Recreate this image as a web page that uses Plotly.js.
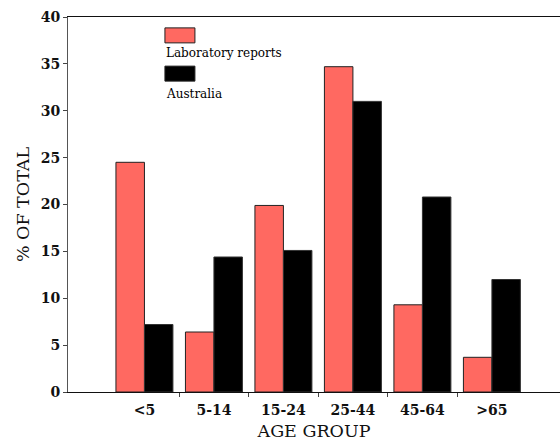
<!DOCTYPE html>
<html>
<head>
<meta charset="utf-8">
<script src="https://cdn.plot.ly/plotly-3.0.1.min.js"></script>
<style>html,body{margin:0;padding:0;background:#fff;}#chart{width:560px;height:441px;}</style>
</head>
<body>
<div id="chart"></div>
<script>
const categories = ["<5", "5-14", "15-24", "25-44", "45-64", ">65"];
const labReports = [24.5, 6.4, 19.9, 34.7, 9.3, 3.7];
const australia = [7.2, 14.4, 15.1, 31.0, 20.8, 12.0];
const seriesNames = ["Laboratory reports", "Australia"];
const seriesColors = ["#FF6961", "#000000"];
const yTicks = [0, 5, 10, 15, 20, 25, 30, 35, 40];
const boundaryTicks = [0.5, 1.5, 2.5, 3.5, 4.5];

const FONT = "DejaVu Serif, serif";
const xRange = [-1.1, 5.98];

const traces = [
  {type: "bar", x: categories, y: labReports, name: seriesNames[0],
   marker: {color: seriesColors[0], line: {color: "#222", width: 1}}, hoverinfo: "none"},
  {type: "bar", x: categories, y: australia, name: seriesNames[1],
   marker: {color: seriesColors[1], line: {color: "#333", width: 1}}, hoverinfo: "none"},
  {type: "scatter", x: [], y: [], xaxis: "x2", yaxis: "y", showlegend: false, hoverinfo: "none"}
];

const shapes = [];
const annotations = [];
const legendBoxes = [[0.971, 0.931], [0.869, 0.829]];
const legendText = [0.905, 0.795];
seriesNames.forEach((n, i) => {
  shapes.push({type: "rect", xref: "paper", yref: "paper", x0: 0.197, x1: 0.258,
    y0: legendBoxes[i][1], y1: legendBoxes[i][0], fillcolor: seriesColors[i],
    line: {color: "#222", width: 1}});
  annotations.push({xref: "paper", yref: "paper", x: 0.195, y: legendText[i],
    xanchor: "left", yanchor: "middle", showarrow: false, text: n,
    font: {family: FONT, size: 12, color: "#000"}});
});

const layout = {
  width: 560, height: 441,
  margin: {l: 68, r: 0, t: 17, b: 49},
  paper_bgcolor: "#fff", plot_bgcolor: "#fff",
  showlegend: false,
  barmode: "group", bargap: 0.18, bargroupgap: 0,
  font: {family: FONT, color: "#111"},
  xaxis: {type: "category", range: xRange, showgrid: false, zeroline: false,
    showline: true, linecolor: "#111", linewidth: 1, mirror: true,
    ticks: "", ticklabelstandoff: 5,
    tickfont: {family: FONT, size: 14, color: "#111", weight: "bold"},
    title: {text: "AGE GROUP", font: {family: FONT, size: 17.5, color: "#111"}, standoff: 9},
    fixedrange: true},
  xaxis2: {overlaying: "x", anchor: "y", side: "bottom", range: xRange,
    tickvals: boundaryTicks, showticklabels: false, ticks: "outside", ticklen: 4,
    tickcolor: "#444", showgrid: false, zeroline: false, showline: false},
  yaxis: {range: [0, 40], tickvals: yTicks, ticks: "outside", ticklen: 4, tickcolor: "#444",
    showgrid: false, zeroline: false, showline: true, linecolor: "#555", linewidth: 1,
    tickfont: {family: FONT, size: 14, color: "#111", weight: "bold"},
    title: {text: "% OF TOTAL", font: {family: FONT, size: 17.5, color: "#111"}, standoff: 6}},
  shapes: shapes,
  annotations: annotations
};

Plotly.newPlot("chart", traces, layout, {staticPlot: true, displayModeBar: false});
</script>
</body>
</html>
